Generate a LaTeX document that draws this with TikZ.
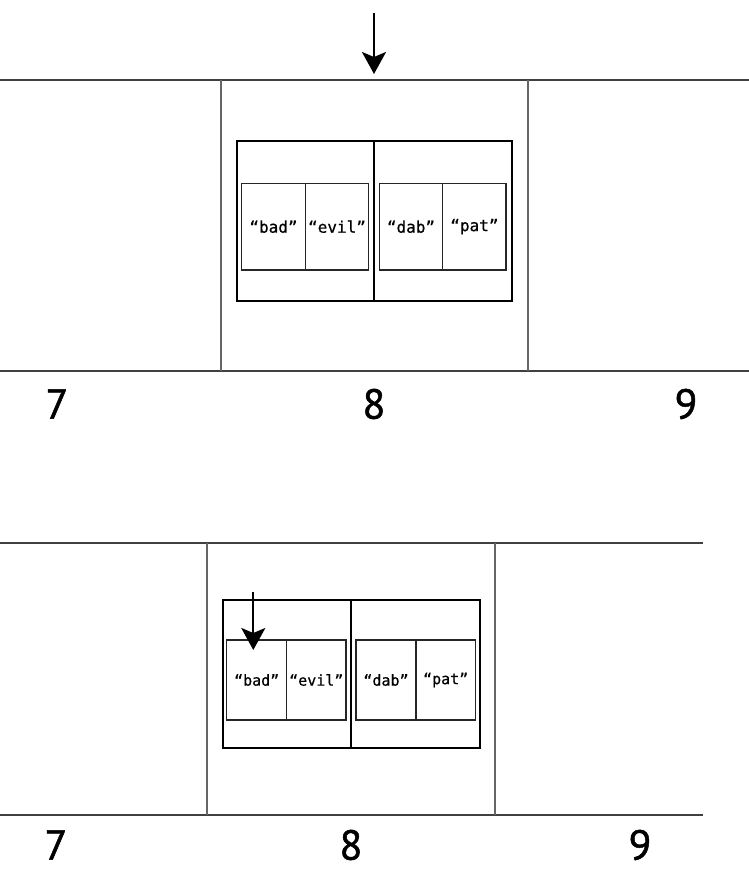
\documentclass[tikz,border=0pt]{standalone}
\usepackage{fontspec}
\newfontfamily\digitfnt[FakeBold=1.2]{PT Sans}
\newfontfamily\monofnt[FakeBold=0.6]{DejaVu Sans Mono}
\usetikzlibrary{arrows.meta}
\tikzset{
  rail/.style={line width=2pt, draw=black!75},
  post/.style={line width=1.1pt, draw=black!60},
  frame/.style={line width=1.8pt, draw=black},
  divider/.style={line width=1.7pt, draw=black},
  cell/.style={draw=black!85, line width=1.3pt, inner sep=0pt, font=\monofnt\fontsize{16}{16}\selectfont},
  cellsm/.style={cell, font=\monofnt\fontsize{15}{15}\selectfont},
  idx/.style={font=\digitfnt\fontsize{42}{42}\selectfont, inner sep=0pt},
  ptr/.style={line width=2.2pt, arrows={-Stealth[length=22pt, width=24pt, inset=5pt]}}
}
\begin{document}
\begin{tikzpicture}[x=1pt,y=-1pt]
\useasboundingbox (0,0) rectangle (749,876);
% ---------- top panel ----------
\draw[rail] (0,80) -- (749,80);
\draw[rail] (0,371) -- (749,371);
\draw[post] (221,80) -- (221,371);
\draw[post] (528,80) -- (528,371);
\draw[frame] (236.7,141) rectangle (512,300.7);
\draw[divider] (374,141) -- (374,300.7);
\node[cell, minimum width=63.6pt, minimum height=86.7pt] (tbad) at (273.5,226.7) {“bad”};
\node[cell, minimum width=63.4pt, minimum height=86.7pt] (tevil) at (337,226.7) {“evil”};
\node[cell, minimum width=63.4pt, minimum height=86.7pt] (tdab) at (411,226.7) {“dab”};
\node[cell, minimum width=63.3pt, minimum height=86.7pt] (tpat) at (474.4,226.7) {“pat”};
\node[idx] (t7) at (57,404) {7};
\node[idx] (t8) at (374,404) {8};
\node[idx] (t9) at (686,404) {9};
\coordinate (ta) at (374,13);
\coordinate (tb) at (374,74);
\draw[ptr] (ta) -- (tb);
% ---------- bottom panel ----------
\draw[rail] (0,543) -- (703,543);
\draw[rail] (0,815) -- (703,815);
\draw[post] (207,543) -- (207,815);
\draw[post] (495,543) -- (495,815);
\draw[frame] (222.7,600) rectangle (480,747.7);
\draw[divider] (351,600) -- (351,747.7);
\node[cellsm, minimum width=60pt, minimum height=80pt] (bbad) at (256.7,680) {“bad”};
\node[cellsm, minimum width=59.3pt, minimum height=80pt] (bevil) at (316.3,680) {“evil”};
\node[cellsm, minimum width=60pt, minimum height=80pt] (bdab) at (386,680) {“dab”};
\node[cellsm, minimum width=59.3pt, minimum height=80pt] (bpat) at (445.7,680) {“pat”};
\node[idx] (b7) at (56,845) {7};
\node[idx] (b8) at (351,845) {8};
\node[idx] (b9) at (640,845) {9};
\coordinate (ba) at (253.3,592);
\coordinate (bb) at (253.3,650);
\draw[ptr] (ba) -- (bb);
\end{tikzpicture}
\end{document}
